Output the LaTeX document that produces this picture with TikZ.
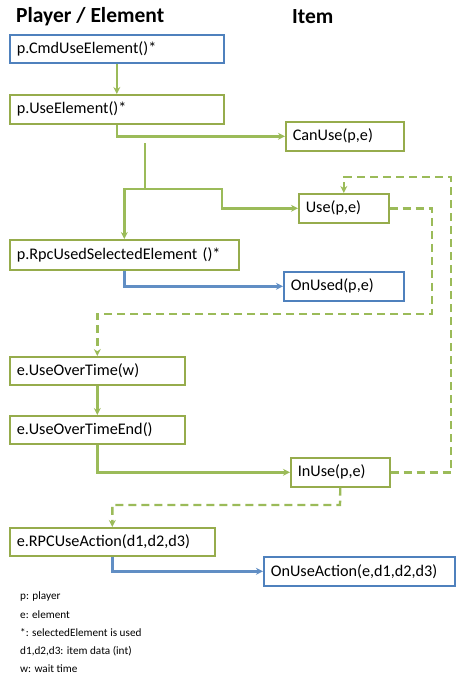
\documentclass[tikz,border=0pt]{standalone}
\usepackage{fontspec}
\setmainfont{Carlito}
\usepackage{xcolor}
\usetikzlibrary{positioning, calc, arrows.meta}

\definecolor{boxgreen}{RGB}{150,172,76}
\definecolor{linegreen}{RGB}{155,187,89}
\definecolor{boxblue}{RGB}{79,129,189}

\tikzset{
    box/.style={draw=boxgreen, line width=1.6pt, anchor=north west, align=left,
        inner xsep=7pt, inner ysep=0pt, text width=#1, minimum height=28pt,
        font=\fontsize{16.2}{18}\selectfont},
    bluebox/.style={box=#1, draw=boxblue},
    flow/.style={draw=linegreen, line width=2.4pt, ->},
    dflow/.style={flow, dash pattern=on 8pt off 5pt},
    bflow/.style={flow, draw=boxblue!90!white},
}

\begin{document}
\begin{tikzpicture}[x=1pt, y=-1pt, >={Stealth[length=7pt,width=7pt]}]
    \useasboundingbox (0,0) rectangle (462,683);

    % --- Column titles ---
    \node[anchor=west, inner sep=0pt, font=\fontsize{21.5}{24}\selectfont\bfseries] (colplayer) at (16,17) {Player / Element};
    \node[anchor=west, inner sep=0pt, font=\fontsize{21.5}{24}\selectfont\bfseries] (colitem) at (292,17) {Item};

    % --- Player / Element side ---
    \node[bluebox=200pt] (cmd) at (9,34) {p.CmdUseElement()*};
    \node[box=200pt, minimum height=29pt] (useel) at (9,94) {p.UseElement()*};
    \node[box=215pt, minimum height=30pt] (rpc) at (9,239) {p.RpcUsedSelectedElement ()*};
    \node[box=161pt] (overtime) at (9,356) {e.UseOverTime(w)};
    \node[box=161pt] (overend) at (9,415) {e.UseOverTimeEnd()};
    \node[box=191pt] (rpcact) at (9,527) {e.RPCUseAction(d1,d2,d3)};

    % --- Item side ---
    \node[box=104pt, minimum height=29pt] (canuse) at (285,121) {CanUse(p,e)};
    \node[box=76pt, minimum height=29pt] (use) at (298,193) {Use(p,e)};
    \node[bluebox=106pt, minimum height=29pt] (onused) at (283,271) {OnUsed(p,e)};
    \node[box=85pt, minimum height=29pt] (inuse) at (290,457) {InUse(p,e)};
    \node[bluebox=177pt, minimum height=29pt] (onact) at (263,556) {OnUseAction(e,d1,d2,d3)};

    % --- Solid calls ---
    \draw[flow] (cmd) -- (useel);
    \draw[flow] (useel.south) |- (canuse.west);
    \coordinate (start) at (145,143);
    \coordinate (fork) at (145,189);
    \coordinate (bend) at (222,189);
    \draw[flow, -] (start) -- (fork);
    \draw[flow] (fork) -| (rpc.north);
    \draw[flow] (fork) -- (bend) |- (use.west);
    \draw[bflow] (rpc.south) |- (onused.west);
    \draw[flow] (overtime) -- (overend);
    \draw[flow] (overend.south) |- (inuse.west);
    \draw[bflow] (rpcact.south) |- (onact.west);

    % --- Dashed callbacks ---
    \coordinate (useback) at (432,314);
    \draw[dflow] (use.east) -| (useback) -| (overtime.north);
    \coordinate (inback) at (451,177);
    \draw[dflow] (inuse.east) -| (inback) -| (use.north);
    \coordinate (actback) at (340,505);
    \draw[dflow] (inuse.south) -- (actback) -| (rpcact.north);

    % --- Legend ---
    \node[anchor=north west, align=left, inner sep=0pt, font=\fontsize{11.2}{18.2}\selectfont] (legend) at (20,592)
        {p: player\\e: element\\*: selectedElement is used\\d1,d2,d3: item data (int)\\w: wait time};
\end{tikzpicture}
\end{document}
